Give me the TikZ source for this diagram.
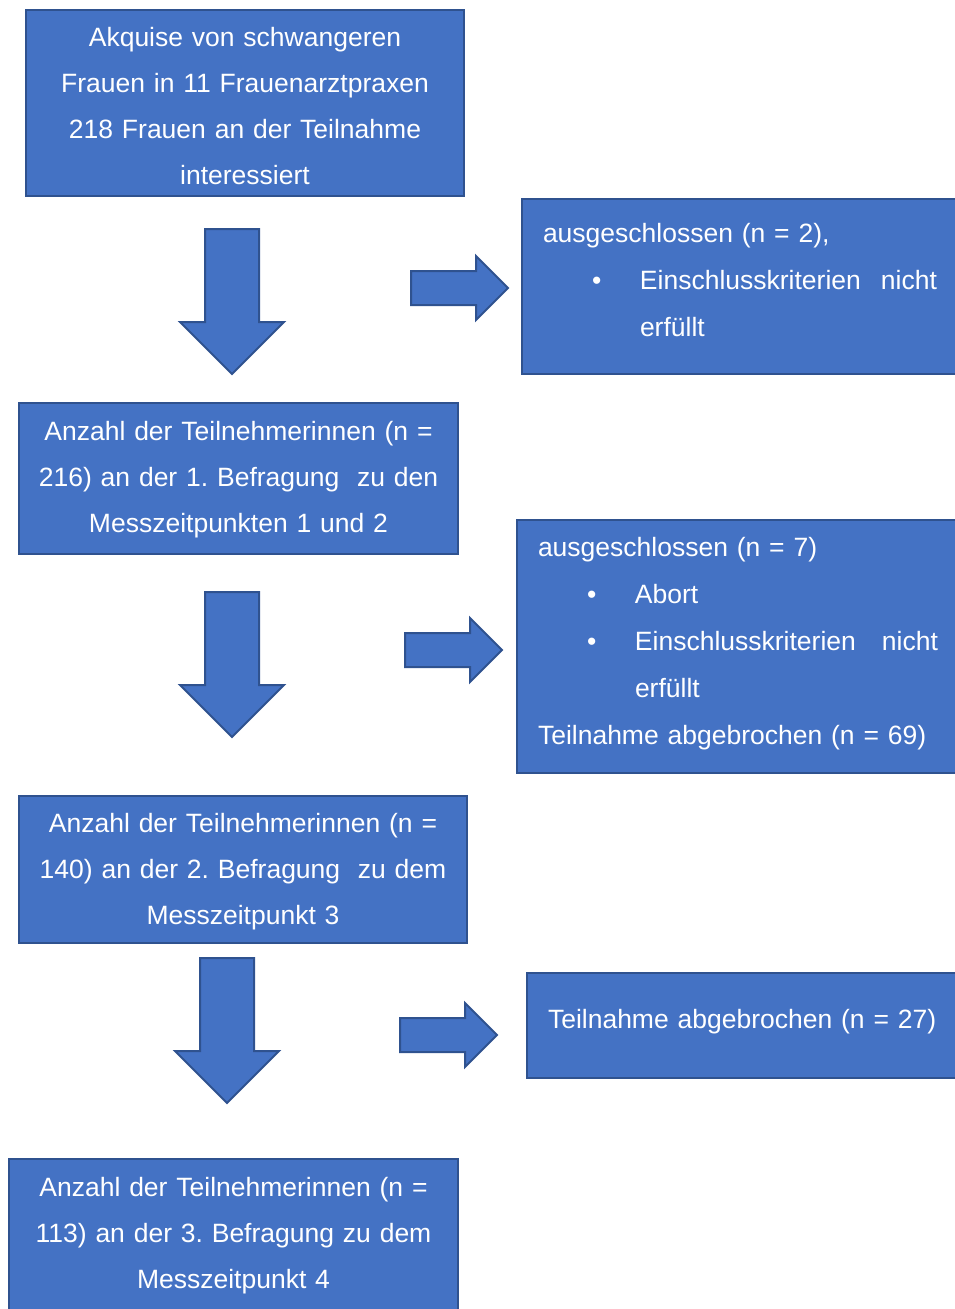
\documentclass[tikz,border=0pt]{standalone}
\usepackage{fontspec}
\setmainfont{Liberation Sans}
\usepackage{xcolor}
\usepackage{tikz}
\usetikzlibrary{shapes.arrows}
\definecolor{boxblue}{HTML}{4472C4}
\definecolor{boxline}{HTML}{2F528F}
\tikzstyle{box} = [rectangle, anchor=north west, draw=boxline, fill=boxblue, line width=2pt, text=white, inner ysep=0pt, font=\fontsize{26.5}{46}\selectfont]
\tikzstyle{midbox} = [box, align=center, inner xsep=0pt]
\tikzstyle{listbox} = [box, align=left, inner xsep=21pt, font=\fontsize{26.5}{47}\selectfont]
\tikzstyle{downarrow} = [single arrow, draw=boxline, fill=boxblue, line width=2pt, rotate=-90, anchor=tail, inner sep=26pt, single arrow head extend=25pt, minimum height=145pt]
\tikzstyle{sidearrow} = [single arrow, draw=boxline, fill=boxblue, line width=2pt, anchor=tail, inner sep=16pt, single arrow head extend=15pt, minimum height=97pt]
\newcommand{\listdot}{\makebox[97pt][l]{\hspace*{49pt}\textbullet}}
\frenchspacing

\begin{document}
\begin{tikzpicture}[x=1pt, y=-1pt]
   \useasboundingbox (0,0) rectangle (955,1309);
   \node (k) [midbox, minimum width=438pt, text width=420pt, text height=36pt, text depth=150pt] at (25,9)
      {Akquise von schwangeren\\Frauen in 11 Frauenarztpraxen\\218 Frauen an der Teilnahme\\interessiert};
   \node (e1) [listbox, text width=394pt, text height=43pt, text depth=132pt] at (521,198)
      {ausgeschlossen (n = 2),\\\listdot Einschlusskriterien\hfill nicht\\\hspace*{97pt}erfüllt};
   \node (b1) [midbox, minimum width=439pt, text width=425pt, text height=37pt, text depth=114pt] at (18,402)
      {Anzahl der Teilnehmerinnen (n =\\216) an der 1. Befragung~\ zu den\\Messzeitpunkten 1 und 2};
   \node (e2) [listbox, text width=400pt, text height=36pt, text depth=217pt] at (516,519)
      {ausgeschlossen (n = 7)\\\listdot Abort\\\listdot Einschlusskriterien\hfill nicht\\\hspace*{97pt}erfüllt\\Teilnahme abgebrochen (n = 69)};
   \node (b2) [midbox, minimum width=448pt, text width=430pt, text height=36pt, text depth=111pt] at (18,795)
      {Anzahl der Teilnehmerinnen (n =\\140) an der 2. Befragung~\ zu dem\\Messzeitpunkt 3};
   \node (e3) [listbox, text width=400pt, text height=55pt, text depth=50pt] at (526,972)
      {Teilnahme abgebrochen (n = 27)};
   \node (b3) [midbox, minimum width=449pt, text width=430pt, text height=37pt, text depth=125pt] at (8,1158)
      {Anzahl der Teilnehmerinnen (n =\\113) an der 3. Befragung zu dem\\Messzeitpunkt 4};
   \node (p1) [downarrow] at (232,228) {};
   \node (p2) [downarrow] at (232,591) {};
   \node (p3) [downarrow] at (227,957) {};
   \node (q1) [sidearrow] at (410,288) {};
   \node (q2) [sidearrow] at (404,650) {};
   \node (q3) [sidearrow] at (399,1035) {};
\end{tikzpicture}
\end{document}
